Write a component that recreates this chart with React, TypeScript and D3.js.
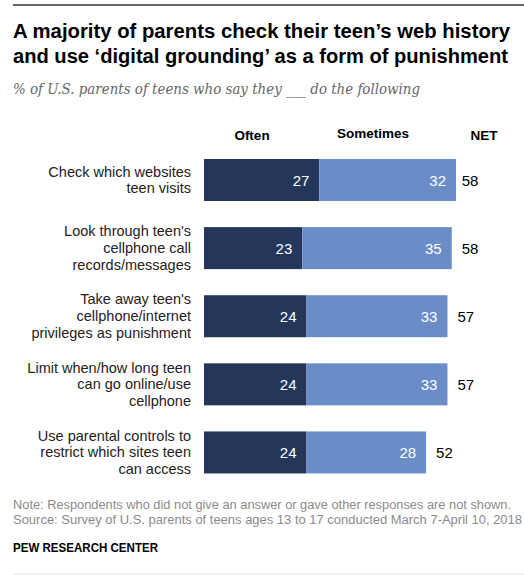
import React from "react";
import * as d3 from "d3";

const categories: string[][] = [
  ["Check which websites", "teen visits"],
  ["Look through teen's", "cellphone call", "records/messages"],
  ["Take away teen's", "cellphone/internet", "privileges as punishment"],
  ["Limit when/how long teen", "can go online/use", "cellphone"],
  ["Use parental controls to", "restrict which sites teen", "can access"],
];
const often = [27, 23, 24, 24, 24];
const sometimes = [32, 35, 33, 33, 28];
const net = [58, 58, 57, 57, 52];
const headers = ["Often", "Sometimes", "NET"];

const W = 524;
const H = 575;
const DARK = "#24375a";
const LIGHT = "#6a8dc8";
const FONT = "'Liberation Sans', Arial, sans-serif";

export default function App() {
  const x = d3.scaleLinear().domain([0, 59]).range([204, 456]);
  const y = d3
    .scaleBand<number>()
    .domain(d3.range(categories.length))
    .range([159, 159 + 63.5 * 5])
    .paddingInner(21.5 / 63.5)
    .paddingOuter(0);
  const bh = 42;
  const lh = 16.8;

  return (
    <svg
      width={W}
      height={H}
      style={{ position: "absolute", left: 0, top: 0, display: "block", background: "#fff" }}
      fontFamily={FONT}
    >
      <line x1={13} x2={524} y1={5} y2={5} stroke="#333" strokeWidth={1.6} />
      <text x={13} y={38} fontSize={20} fontWeight="bold" fill="#000" textLength={497} lengthAdjust="spacingAndGlyphs">
        A majority of parents check their teen’s web history
      </text>
      <text x={13} y={63} fontSize={20} fontWeight="bold" fill="#000" textLength={495} lengthAdjust="spacingAndGlyphs">
        and use ‘digital grounding’ as a form of punishment
      </text>
      <text
        x={13}
        y={94}
        fontSize={14}
        fontStyle="italic"
        fill="#666"
        fontFamily="Georgia, 'DejaVu Serif', serif"
        textLength={407}
        lengthAdjust="spacingAndGlyphs"
      >
        % of U.S. parents of teens who say they ___ do the following
      </text>

      <text x={252} y={140} fontSize={13.5} fontWeight="bold" textAnchor="middle" fill="#000">
        {headers[0]}
      </text>
      <text x={373} y={138} fontSize={13.5} fontWeight="bold" textAnchor="middle" fill="#000">
        {headers[1]}
      </text>
      <text x={484} y={140} fontSize={13.5} fontWeight="bold" textAnchor="middle" fill="#000">
        {headers[2]}
      </text>

      {categories.map((lines, i) => {
        const y0 = y(i) as number;
        const cy = y0 + bh / 2;
        const total = often[i] + sometimes[i];
        const firstBase = cy + 5 - ((lines.length - 1) / 2) * lh;
        return (
          <g key={i}>
            <rect x={x(0)} y={y0} width={x(often[i]) - x(0)} height={bh} fill={DARK} />
            <rect x={x(often[i])} y={y0} width={x(total) - x(often[i])} height={bh} fill={LIGHT} />
            <text x={x(often[i]) - 10} y={cy + 5.5} fontSize={15} fill="#fff" textAnchor="end">
              {often[i]}
            </text>
            <text x={x(total) - 10} y={cy + 5.5} fontSize={15} fill="#fff" textAnchor="end">
              {sometimes[i]}
            </text>
            <text x={x(net[i]) + 10} y={cy + 5.5} fontSize={15} fill="#000">
              {net[i]}
            </text>
            {lines.map((t, j) => (
              <text key={j} x={191} y={firstBase + j * lh} fontSize={14.5} fill="#222" textAnchor="end">
                {t}
              </text>
            ))}
          </g>
        );
      })}

      <text x={13} y={509} fontSize={12} fill="#8a8a8a" textLength={498} lengthAdjust="spacingAndGlyphs">
        Note: Respondents who did not give an answer or gave other responses are not shown.
      </text>
      <text x={13} y={524} fontSize={12} fill="#8a8a8a" textLength={509} lengthAdjust="spacingAndGlyphs">
        Source: Survey of U.S. parents of teens ages 13 to 17 conducted March 7-April 10, 2018
      </text>
      <text x={13} y={552} fontSize={12} fontWeight="bold" fill="#000" textLength={145} lengthAdjust="spacingAndGlyphs">
        PEW RESEARCH CENTER
      </text>
      <line x1={13} x2={524} y1={574} y2={574} stroke="#e2e2e2" strokeWidth={1} />
    </svg>
  );
}
